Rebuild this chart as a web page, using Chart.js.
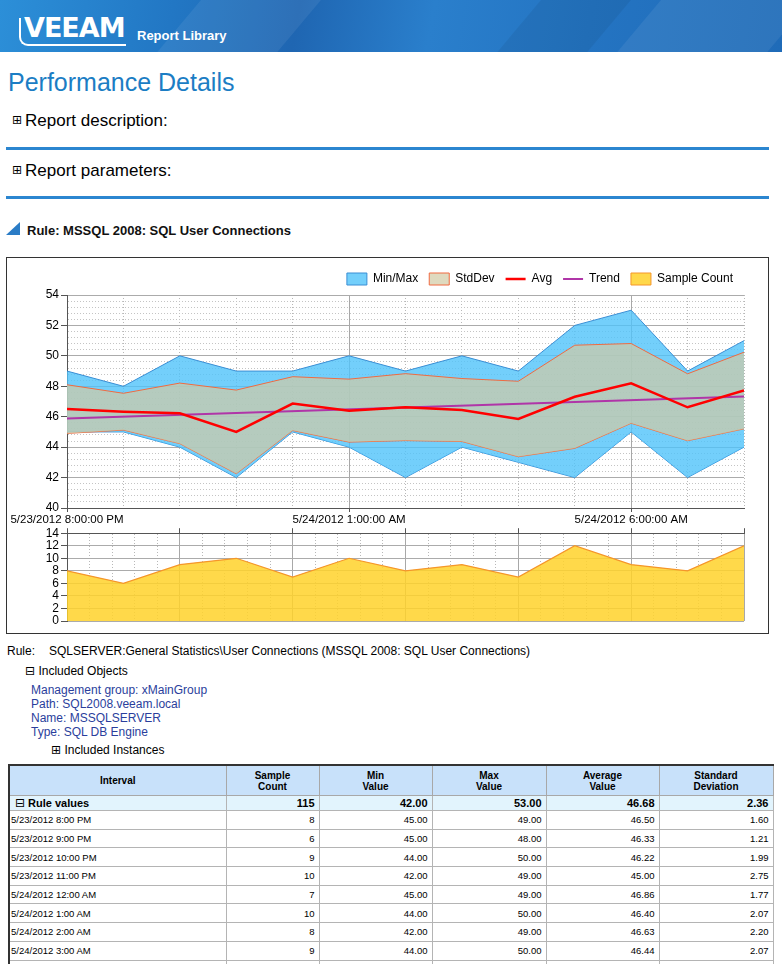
<!DOCTYPE html>
<html>
<head>
<meta charset="utf-8">
<script src="https://cdn.jsdelivr.net/npm/chart.js@4.4.1/dist/chart.umd.min.js"></script>
<style>
html, body { margin: 0; padding: 0; overflow: hidden; background: #fff; }
body { width: 782px; height: 964px; position: relative; font-family: "Liberation Sans", Arial, sans-serif; color: #000; }
.abs { position: absolute; white-space: nowrap; }
.banner { left: 0; top: 0; width: 782px; height: 52px; overflow: hidden;
  background: linear-gradient(100deg, #2c8fd8 0%, #2277c4 22%, #1f66b2 38%, #2a7fcc 55%, #2474c2 75%, #1f6bb8 100%); }
.banner .shape { position: absolute; top: -20px; height: 90px; background: rgba(255,255,255,0.07); transform: skewX(-40deg); }
.logo { left: 24px; top: 14px; font-family: "DejaVu Sans", sans-serif; font-weight: bold; font-size: 27px; line-height: 27px; color: #fff; letter-spacing: -1px; }
.logo-bracket { left: 19px; top: 18px; width: 105px; height: 26px; border-left: 2px solid #fff; border-bottom: 2px solid #fff; border-bottom-left-radius: 9px; }
.lib { left: 137px; top: 29px; font-size: 13px; line-height: 13px; font-weight: bold; color: #fff; }
.title { left: 8px; top: 70px; font-size: 25px; line-height: 25px; color: #1b7dc4; }
.section { left: 12px; font-size: 17px; line-height: 17px; color: #000; }
.section .ic { font-family: "DejaVu Sans", sans-serif; font-size: 12px; margin-right: 3px; position: relative; top: -2px; }
.rule-line { left: 6px; width: 763px; height: 3px; background: #2b86d0; }
.tri { left: 6px; top: 222px; width: 0; height: 0; border-left: 14px solid transparent; border-bottom: 13px solid #2a7cc6; }
.rule-title { left: 27px; top: 224px; font-size: 13px; line-height: 13px; font-weight: bold; color: #111; }
.chartbox { left: 6px; top: 257px; width: 763px; height: 377px; box-sizing: border-box; border: 1px solid #333; }
.small { font-size: 12px; line-height: 12px; }
.blue { color: #2a3e9c; }
.ic2 { font-family: "DejaVu Sans", sans-serif; font-size: 12px; }
table.grid { position: absolute; left: 8px; top: 764px; width: 764px; border-collapse: collapse; font-size: 9.5px; table-layout: fixed; }
table.grid th { background: #c8e1fa; font-weight: bold; height: 29px; padding: 0; border: 1px solid #a8a8a8; text-align: center; line-height: 11px; font-size: 10px; }
table.grid td { border: 1px solid #b4b4b4; height: 17.7px; padding: 0 4px; text-align: right; }
table.grid td.iv { text-align: left; padding-left: 1px; }
table.grid tr.sum td { background: #e2f4fd; font-weight: bold; font-size: 11px; height: 14px; line-height: 13px; }
table.grid { border-top: 2px solid #333; border-left: 2px solid #333; }
</style>
</head>
<body>
<div class="abs banner">
  <div class="shape" style="left:180px;width:120px;"></div>
  <div class="shape" style="left:520px;width:90px;background:rgba(0,0,0,0.06)"></div>
  <div class="shape" style="left:640px;width:150px;"></div>
</div>
<div class="abs logo-bracket"></div>
<div class="abs logo">VEEAM</div>
<div class="abs lib">Report Library</div>

<div class="abs title">Performance Details</div>
<div class="abs section" style="top:112px"><span class="ic">⊞</span>Report description:</div>
<div class="abs rule-line" style="top:147px"></div>
<div class="abs section" style="top:162px"><span class="ic">⊞</span>Report parameters:</div>
<div class="abs rule-line" style="top:196px"></div>

<div class="abs tri"></div>
<div class="abs rule-title">Rule: MSSQL 2008: SQL User Connections</div>

<div class="abs chartbox">
  <div style="position:absolute;left:0;top:0;width:760px;height:270px;"><canvas id="perfChart"></canvas></div>
  <div style="position:absolute;left:0;top:266px;width:760px;height:108px;"><canvas id="countChart"></canvas></div>
</div>

<div class="abs small" style="left:7px;top:645px;">Rule:</div>
<div class="abs small" style="left:49px;top:645px;">SQLSERVER:General Statistics\User Connections (MSSQL 2008: SQL User Connections)</div>
<div class="abs small" style="left:25px;top:665px;"><span class="ic2">⊟</span> Included Objects</div>
<div class="abs small blue" style="left:31px;top:684px;">Management group: xMainGroup</div>
<div class="abs small blue" style="left:31px;top:698px;">Path: SQL2008.veeam.local</div>
<div class="abs small blue" style="left:31px;top:712px;">Name: MSSQLSERVER</div>
<div class="abs small blue" style="left:31px;top:726px;">Type: SQL DB Engine</div>
<div class="abs small" style="left:51px;top:744px;"><span class="ic2">⊞</span> Included Instances</div>

<table class="grid" id="valuesTable">
  <colgroup><col style="width:217px"><col style="width:93px"><col style="width:113px"><col style="width:114px"><col style="width:113px"><col style="width:114px"></colgroup>
  <thead><tr><th>Interval</th><th>Sample<br>Count</th><th>Min<br>Value</th><th>Max<br>Value</th><th>Average<br>Value</th><th>Standard<br>Deviation</th></tr></thead>
  <tbody></tbody>
</table>

<script>
// hourly intervals, 5/23/2012 8 PM .. 5/24/2012 8 AM
const intervals = [
  "5/23/2012 8:00 PM", "5/23/2012 9:00 PM", "5/23/2012 10:00 PM", "5/23/2012 11:00 PM",
  "5/24/2012 12:00 AM", "5/24/2012 1:00 AM", "5/24/2012 2:00 AM", "5/24/2012 3:00 AM",
  "5/24/2012 4:00 AM", "5/24/2012 5:00 AM", "5/24/2012 6:00 AM", "5/24/2012 7:00 AM",
  "5/24/2012 8:00 AM"
];
const sampleCount = [8, 6, 9, 10, 7, 10, 8, 9, 7, 12, 9, 8, 12];
const minValue = [45, 45, 44, 42, 45, 44, 42, 44, 43, 42, 45, 42, 44];
const maxValue = [49, 48, 50, 49, 49, 50, 49, 50, 49, 52, 53, 49, 51];
const avgValue = [46.50, 46.33, 46.22, 45.00, 46.86, 46.40, 46.63, 46.44, 45.85, 47.31, 48.19, 46.62, 47.72];
const stdDev = [1.60, 1.21, 1.99, 2.75, 1.77, 2.07, 2.20, 2.07, 2.48, 3.39, 2.62, 2.20, 2.52];
const trendHours = [0, 12];
const trendValue = [45.88, 47.33];
const ruleTotals = ["115", "42.00", "53.00", "46.68", "2.36"];

// x axis labels (hour offset -> label)
const tickHours = [0, 5, 10];
const tickLabels = ["5/23/2012 8:00:00 PM", "5/24/2012 1:00:00 AM", "5/24/2012 6:00:00 AM"];

const xy = (arr) => arr.map((v, i) => ({ x: i, y: v }));
const stdUpper = avgValue.map((a, i) => a + stdDev[i]);
const stdLower = avgValue.map((a, i) => a - stdDev[i]);
const isMult = (v, m) => Math.abs(v / m - Math.round(v / m)) < 1e-6;

const FONT = "'Liberation Sans', Arial, sans-serif";
Chart.defaults.font.family = FONT;
Chart.defaults.color = "#000";

new Chart(document.getElementById("perfChart"), {
  type: "line",
  data: {
    datasets: [
      { label: "Min/Max", data: xy(maxValue), borderColor: "#3a8ed4", backgroundColor: "rgba(80,195,250,0.8)",
        borderWidth: 1, pointBorderWidth: 1, fill: 1, order: 5, pointStyle: "rect" },
      { label: "Min", data: xy(minValue), borderColor: "#3a8ed4", borderWidth: 1, fill: false, order: 5 },
      { label: "StdDev", data: xy(stdUpper), borderColor: "#f06a40", backgroundColor: "rgba(209,203,164,0.7)",
        borderWidth: 1, pointBorderWidth: 1, fill: 3, order: 4, pointStyle: "rect" },
      { label: "StdDevLow", data: xy(stdLower), borderColor: "#f06a40", borderWidth: 1, fill: false, order: 4 },
      { label: "Avg", data: xy(avgValue), borderColor: "#ff0000", backgroundColor: "#ff0000",
        borderWidth: 2.5, pointBorderWidth: 2.5, fill: false, order: 1, pointStyle: "line" },
      { label: "Trend", data: trendHours.map((h, i) => ({ x: h, y: trendValue[i] })), borderColor: "#b035a8",
        backgroundColor: "#b035a8", borderWidth: 2, pointBorderWidth: 2, fill: false, order: 2, pointStyle: "line" },
      { label: "Sample Count", data: [], borderColor: "#f5962a", backgroundColor: "#ffd84a",
        borderWidth: 1, pointBorderWidth: 1, order: 0, pointStyle: "rect" }
    ]
  },
  options: {
    responsive: true,
    maintainAspectRatio: false,
    animation: false,
    elements: { point: { radius: 0, hoverRadius: 0 }, line: { tension: 0 } },
    layout: { autoPadding: false, padding: { left: 10, right: 23, top: 4, bottom: 0 } },
    plugins: {
      tooltip: { enabled: false },
      legend: {
        position: "top",
        align: "end",
        labels: {
          usePointStyle: true,
          pointStyleWidth: 20,
          boxHeight: 12,
          padding: 11,
          font: { size: 12 },
          filter: (item) => item.text !== "Min" && item.text !== "StdDevLow",
          sort: (a, b) => a.datasetIndex - b.datasetIndex
        }
      }
    },
    scales: {
      x: {
        type: "linear", min: 0, max: 12, position: "bottom",
        ticks: {
          stepSize: 1, autoSkip: false, maxRotation: 0, padding: 1, font: { size: 11.5 },
          callback: (v) => { const k = tickHours.indexOf(v); return k < 0 ? "" : tickLabels[k]; }
        },
        grid: {
          color: (c) => (c.tick && isMult(c.tick.value, 5)) ? "#a8a8a8" : "#b8b8b8",
          tickLength: 4,
          tickColor: (c) => (c.tick && isMult(c.tick.value, 5)) ? "#555" : "rgba(0,0,0,0)"
        },
        border: { color: "#555", dash: (c) => (c.tick && !isMult(c.tick.value, 5)) ? [1, 2] : [] },
        afterFit: (s) => { s.height = 20; }
      },
      y: {
        type: "linear", min: 40, max: 54,
        ticks: {
          stepSize: 0.4, autoSkip: false, padding: 2, font: { size: 12 },
          callback: (v) => isMult(v, 2) ? String(Math.round(v)) : ""
        },
        grid: {
          color: (c) => (c.tick && isMult(c.tick.value, 2)) ? "#ababab" : "#c4c4c4",
          tickLength: 6,
          tickColor: (c) => (c.tick && isMult(c.tick.value, 2)) ? "#555" : "rgba(0,0,0,0)"
        },
        border: { color: "#555", dash: (c) => (c.tick && !isMult(c.tick.value, 2)) ? [1, 2] : [] },
        afterFit: (s) => { s.width = 50; }
      }
    }
  }
});

new Chart(document.getElementById("countChart"), {
  type: "line",
  data: {
    datasets: [
      { label: "Sample Count", data: xy(sampleCount), borderColor: "#f5962a", backgroundColor: "rgba(255,210,42,0.85)",
        borderWidth: 1.2, fill: "origin" }
    ]
  },
  options: {
    responsive: true,
    maintainAspectRatio: false,
    animation: false,
    elements: { point: { radius: 0, hoverRadius: 0 }, line: { tension: 0 } },
    layout: { autoPadding: false, padding: { left: 10, right: 23, top: 0, bottom: 11 } },
    plugins: { legend: { display: false }, tooltip: { enabled: false } },
    scales: {
      x: {
        type: "linear", min: 0, max: 12, position: "top",
        ticks: { stepSize: 0.4, autoSkip: false, display: false },
        grid: {
          color: (c) => (c.tick && isMult(c.tick.value, 2)) ? "#a8a8a8" : "#b8b8b8",
          tickLength: 5,
          tickColor: (c) => (c.tick && isMult(c.tick.value, 2)) ? "#555" : "rgba(0,0,0,0)"
        },
        border: { color: "#555", dash: (c) => (c.tick && !isMult(c.tick.value, 2)) ? [1, 2] : [] },
        afterFit: (s) => { s.height = 6; }
      },
      y: {
        type: "linear", min: 0, max: 14,
        ticks: { stepSize: 2, autoSkip: false, padding: 2, font: { size: 12 } },
        grid: { color: "#ababab", tickLength: 6, tickColor: "#555" },
        border: { color: "#555" },
        afterFit: (s) => { s.width = 50; }
      }
    }
  }
});

// values table
const tbody = document.querySelector("#valuesTable tbody");
const sumRow = document.createElement("tr");
sumRow.className = "sum";
sumRow.innerHTML = '<td class="iv"><span style="font-family:DejaVu Sans;font-weight:normal;font-size:12px;margin:0 3px 0 4px">⊟</span>Rule values</td>' +
  ruleTotals.map((t) => "<td>" + t + "</td>").join("");
tbody.appendChild(sumRow);
intervals.forEach((label, i) => {
  const tr = document.createElement("tr");
  tr.innerHTML = '<td class="iv">' + label + "</td><td>" + sampleCount[i] + "</td><td>" + minValue[i].toFixed(2) +
    "</td><td>" + maxValue[i].toFixed(2) + "</td><td>" + avgValue[i].toFixed(2) + "</td><td>" + stdDev[i].toFixed(2) + "</td>";
  tbody.appendChild(tr);
});
</script>
</body>
</html>
